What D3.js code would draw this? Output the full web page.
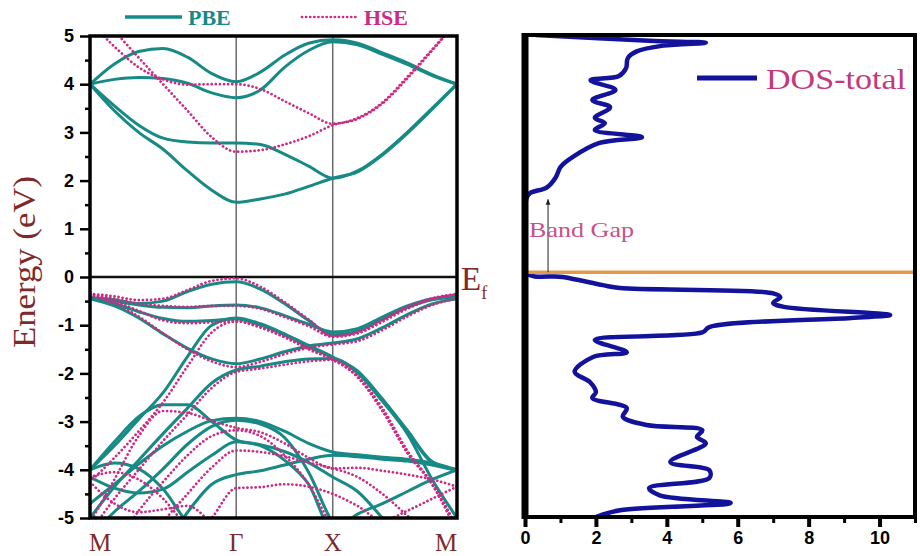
<!DOCTYPE html>
<html>
<head>
<meta charset="utf-8">
<script src="https://cdn.jsdelivr.net/npm/d3@7"></script>
<style>
  body { margin: 0; background: #fff; }
  svg { display: block; }
</style>
</head>
<body>
<svg id="chart" width="920" height="556"></svg>
<script>
// k-path (relative path length) and its high-symmetry points
const kNodes = [0, 1.0, 1.66, 2.51];
const kLabels = ["M", "Γ", "X", "M"];
const kGrid = [0, 0.167, 0.333, 0.5, 0.667, 0.833, 1.0, 1.165, 1.33, 1.495, 1.66, 1.83, 2.0, 2.17, 2.34, 2.51];
const energyTicks = [-5, -4, -3, -2, -1, 0, 1, 2, 3, 4, 5];
const energyMinor = [-4.5, -3.5, -2.5, -1.5, -0.5, 0.5, 1.5, 2.5, 3.5, 4.5];

// PBE bands, energy (eV) at each kGrid point
const pbeBands = [
  [4.0, 4.42, 4.68, 4.74, 4.56, 4.22, 4.05, 4.25, 4.6, 4.85, 4.92, 4.85, 4.65, 4.44, 4.2, 4.0],
  [4.0, 4.1, 4.14, 4.12, 4.02, 3.82, 3.72, 3.88, 4.35, 4.7, 4.88, 4.82, 4.62, 4.41, 4.18, 4.0],
  [4.0, 3.55, 3.15, 2.88, 2.8, 2.78, 2.78, 2.75, 2.55, 2.3, 2.05, 2.2, 2.55, 3.0, 3.5, 4.0],
  [4.0, 3.45, 3.0, 2.65, 2.2, 1.8, 1.55, 1.62, 1.72, 1.88, 2.05, 2.18, 2.53, 2.98, 3.48, 4.0],
  [-0.43, -0.47, -0.55, -0.5, -0.3, -0.15, -0.1, -0.25, -0.55, -0.9, -1.2, -1.12, -0.88, -0.63, -0.47, -0.42],
  [-0.43, -0.5, -0.58, -0.63, -0.64, -0.6, -0.58, -0.64, -0.8, -0.98, -1.14, -1.07, -0.83, -0.6, -0.45, -0.4],
  [-0.43, -0.55, -0.72, -0.86, -0.92, -0.9, -0.87, -1.0, -1.2, -1.45, -1.67, -1.97, -2.55, -3.2, -3.85, -4.0],
  [-0.45, -0.6, -0.85, -1.18, -1.48, -1.7, -1.8, -1.7, -1.55, -1.43, -1.37, -1.28, -1.05, -0.78, -0.56, -0.45],
  [-5.0, -4.35, -3.8, -3.25, -2.72, -2.2, -1.93, -1.85, -1.76, -1.7, -1.69, -1.99, -2.58, -3.25, -4.2, -5.0],
  [-4.0, -3.5, -2.95, -2.4, -1.65, -1.0, -0.85, -0.97, -1.18, -1.42, -1.66, -1.95, -2.53, -3.18, -3.83, -4.0],
  [-4.0, -3.42, -2.9, -2.65, -2.65, -3.0, -3.38, -3.5, -3.8, -4.3, -5.25, -4.92, -4.7, -4.45, -4.2, -4.0],
  [-4.7, -4.3, -3.88, -3.5, -3.2, -2.98, -2.93, -3.0, -3.2, -3.45, -3.63, -3.69, -3.74, -3.78, -3.86, -4.0],
  [-5.4, -4.87, -4.45, -3.98, -3.47, -3.1, -2.97, -3.05, -3.33, -4.05, -5.1, -5.6, -5.8, -5.7, -5.5, -5.3],
  [-4.0, -3.86, -3.98, -4.4, -5.1, -5.5, -5.7, -5.6, -5.5, -5.4, -5.3, -5.3, -5.4, -5.5, -5.6, -5.7],
  [-6.2, -6.0, -5.8, -5.6, -4.88, -4.3, -4.1, -4.02, -3.9, -3.78, -3.7, -3.73, -3.78, -3.82, -3.9, -4.02],
  [-4.15, -4.38, -4.48, -4.4, -4.05, -3.7, -3.42, -3.48, -3.62, -3.85, -4.15, -4.45, -5.0, -5.6, -6.0, -6.2]
];

// HSE bands
const hseBands = [
  [5.3, 4.78, 4.35, 4.1, 3.99, 4.0, 4.0, 3.9, 3.65, 3.4, 3.18, 3.3, 3.62, 4.15, 4.72, 5.3],
  [5.6, 5.1, 4.55, 4.0, 3.45, 2.9, 2.6, 2.63, 2.75, 2.92, 3.15, 3.28, 3.6, 4.12, 4.7, 5.3],
  [-0.35, -0.4, -0.48, -0.45, -0.27, -0.08, -0.03, -0.2, -0.52, -0.88, -1.22, -1.14, -0.88, -0.62, -0.44, -0.35],
  [-0.35, -0.45, -0.55, -0.6, -0.62, -0.6, -0.6, -0.66, -0.83, -1.02, -1.24, -1.17, -0.93, -0.66, -0.46, -0.36],
  [-0.36, -0.5, -0.7, -0.9, -0.96, -0.94, -0.92, -1.03, -1.23, -1.48, -1.7, -2.08, -2.78, -3.65, -4.3, -5.2],
  [-0.38, -0.55, -0.82, -1.17, -1.5, -1.75, -1.87, -1.76, -1.6, -1.47, -1.4, -1.33, -1.1, -0.82, -0.58, -0.45],
  [-5.3, -4.6, -4.0, -3.4, -2.85, -2.3, -1.97, -1.9, -1.82, -1.75, -1.72, -2.05, -2.72, -3.6, -4.3, -5.3],
  [-4.25, -3.75, -3.2, -2.6, -1.85, -1.15, -0.92, -1.05, -1.25, -1.5, -1.72, -2.06, -2.76, -3.63, -4.28, -5.2],
  [-5.1, -4.2, -3.3, -2.78, -2.82, -2.98, -3.13, -3.22, -3.45, -3.75, -3.97, -3.96, -4.02, -4.1, -4.2, -4.35],
  [-6.2, -5.6, -4.85, -4.25, -3.7, -3.3, -3.18, -3.3, -3.7, -4.3, -5.2, -5.8, -6.0, -6.0, -6.0, -6.0],
  [-6.5, -6.3, -6.0, -5.1, -4.5, -3.95, -3.6, -3.63, -3.72, -3.85, -3.97, -4.15, -4.5, -4.95, -5.4, -5.8],
  [-7.0, -6.8, -6.5, -6.2, -5.6, -5.0, -4.38, -4.36, -4.3, -4.35, -4.5, -4.75, -5.05, -4.85, -4.6, -4.35],
  [-4.25, -4.7, -4.88, -4.82, -4.75, -5.1, -5.5, -5.7, -5.8, -5.9, -6.0, -6.0, -6.0, -6.0, -6.0, -6.0],
  [-4.15, -4.05, -4.2, -4.6, -5.2, -5.7, -6.0, -6.0, -6.0, -6.0, -6.0, -6.0, -6.0, -6.0, -6.0, -6.0]
];

// total DOS, read top to bottom
const dosEnergy = [4.92, 4.8, 4.76, 4.7, 4.58, 4.44, 4.23, 4.07, 3.98, 3.78, 3.57, 3.42, 3.2, 3.09, 2.95,
  2.8, 2.68, 2.39, 2.18, 1.97, 1.76, 1.64, 1.55, 1.3, 0, -0.1, -0.27, -0.33, -0.44, -0.52, -0.64, -0.72,
  -0.89, -0.95, -1.14, -1.25, -1.41, -1.66, -1.76, -2.07, -2.28, -2.49, -2.61, -2.82, -3.0, -3.17, -3.28,
  -3.42, -3.55, -3.94, -4.11, -4.27, -4.48, -4.63, -4.79, -4.94, -5.08];
const dosTotal = [0.3, 3.5, 5.1, 3.9, 3.15, 2.9, 2.85, 2.65, 1.85, 2.55, 1.9, 2.4, 1.97, 2.25, 1.97,
  3.3, 2.1, 1.35, 1.0, 0.87, 0.62, 0.14, 0.05, 0, 0, 1.07, 2.2, 2.68, 7.0, 7.2, 7.0, 7.3,
  10.3, 9.2, 5.2, 5.0, 1.97, 2.87, 1.92, 1.4, 1.83, 2.0, 1.9, 2.87, 2.76, 3.43, 5.0,
  4.85, 5.1, 4.1, 5.2, 5.2, 3.5, 3.8, 5.8, 2.68, 2.0];
const dosTicks = [0, 2, 4, 6, 8, 10];
const dosMinor = [1, 3, 5, 7, 9, 11];
const bandGapTop = 1.55;

const teal = "#178a85", pink = "#cc2a84", brown = "#7e2a2a", navy = "#12129a";

const svg = d3.select("#chart");

// ---------- left panel : band structure ----------
const x = d3.scaleLinear().domain([0, 2.51]).range([90, 457]);
const y = d3.scaleLinear().domain([-5, 5]).range([518, 36]);

svg.append("clipPath").attr("id", "bandclip")
  .append("rect")
  .attr("x", x(0)).attr("y", y(5))
  .attr("width", x(2.51) - x(0)).attr("height", y(-5) - y(5));

// Γ and X guides
svg.selectAll(".kline")
  .data(kNodes.slice(1, 3))
  .join("line")
  .attr("x1", d => x(d)).attr("x2", d => x(d))
  .attr("y1", y(5)).attr("y2", y(-5))
  .attr("stroke", "#6a6a6a").attr("stroke-width", 1.5);

// Fermi level
svg.append("line")
  .attr("x1", x(0)).attr("x2", x(2.51))
  .attr("y1", y(0)).attr("y2", y(0))
  .attr("stroke", "#111").attr("stroke-width", 2.5);

const bandLine = d3.line()
  .x((d, i) => x(kGrid[i]))
  .y(d => y(d))
  .curve(d3.curveMonotoneX);

const bands = svg.append("g").attr("clip-path", "url(#bandclip)");

bands.selectAll(".pbe")
  .data(pbeBands)
  .join("path")
  .attr("class", "pbe")
  .attr("d", bandLine)
  .attr("fill", "none")
  .attr("stroke", teal)
  .attr("stroke-width", 3);

bands.selectAll(".hse")
  .data(hseBands)
  .join("path")
  .attr("class", "hse")
  .attr("d", bandLine)
  .attr("fill", "none")
  .attr("stroke", pink)
  .attr("stroke-width", 2.7)
  .attr("stroke-linecap", "round")
  .attr("stroke-dasharray", "0.1 4");

// frame
svg.append("rect")
  .attr("x", x(0)).attr("y", y(5))
  .attr("width", x(2.51) - x(0)).attr("height", y(-5) - y(5))
  .attr("fill", "none").attr("stroke", "#000").attr("stroke-width", 3.5);

const yAxis = svg.append("g")
  .attr("transform", `translate(${x(0)},0)`)
  .call(d3.axisLeft(y).tickValues(energyTicks).tickSize(10).tickPadding(6)
    .tickFormat(d => String(d)));
svg.append("g")
  .attr("transform", `translate(${x(0)},0)`)
  .call(d3.axisLeft(y).tickValues(energyMinor).tickSize(5).tickFormat(""));
svg.selectAll(".domain").remove();
svg.selectAll(".tick line").attr("stroke", "#000").attr("stroke-width", 2.5);
yAxis.selectAll("text")
  .attr("font-family", "Liberation Sans, Arial, sans-serif")
  .attr("font-weight", "bold").attr("font-size", 18).attr("fill", "#000");

// k labels
svg.selectAll(".klabel")
  .data(kNodes)
  .join("text")
  .attr("x", (d, i) => x(d) + (i === 0 ? 10 : i === 3 ? -11 : 0))
  .attr("y", 551)
  .attr("text-anchor", "middle")
  .attr("font-family", "Liberation Serif, Times New Roman, serif")
  .attr("font-size", 25)
  .attr("fill", brown)
  .text((d, i) => kLabels[i]);

svg.append("text")
  .attr("transform", `translate(35,262) rotate(-90)`)
  .attr("text-anchor", "middle")
  .attr("font-family", "Liberation Serif, Times New Roman, serif")
  .attr("font-size", 31)
  .attr("fill", brown)
  .attr("textLength", 172).attr("lengthAdjust", "spacingAndGlyphs")
  .text("Energy (eV)");

const ef = svg.append("text")
  .attr("x", 461).attr("y", 290)
  .attr("font-family", "Liberation Serif, Times New Roman, serif")
  .attr("font-size", 33).attr("fill", brown);
ef.append("tspan").text("E");
ef.append("tspan").attr("font-size", 18).attr("dy", 9).text("f");

// legend
svg.append("line").attr("x1", 125).attr("x2", 182).attr("y1", 17).attr("y2", 17)
  .attr("stroke", teal).attr("stroke-width", 3.5);
svg.append("text").attr("x", 188).attr("y", 25)
  .attr("font-family", "Liberation Serif, Times New Roman, serif")
  .attr("font-weight", "bold").attr("font-size", 22).attr("fill", teal).text("PBE");
svg.append("line").attr("x1", 302).attr("x2", 357).attr("y1", 17).attr("y2", 17)
  .attr("stroke", pink).attr("stroke-width", 2.7)
  .attr("stroke-linecap", "round").attr("stroke-dasharray", "0.1 4");
svg.append("text").attr("x", 364).attr("y", 25)
  .attr("font-family", "Liberation Serif, Times New Roman, serif")
  .attr("font-weight", "bold").attr("font-size", 22).attr("fill", pink).text("HSE");

// ---------- right panel : DOS ----------
const dx = d3.scaleLinear().domain([0, 11]).range([525, 915]);
const dy = d3.scaleLinear().domain([-5.08, 4.92]).range([517, 35]);

svg.append("clipPath").attr("id", "dosclip")
  .append("rect")
  .attr("x", dx(0)).attr("y", dy(4.92))
  .attr("width", dx(11) - dx(0)).attr("height", dy(-5.08) - dy(4.92));

const dosLine = d3.line()
  .x((d, i) => dx(dosTotal[i]))
  .y(d => dy(d))
  .curve(d3.curveCatmullRom.alpha(0.5));

svg.append("path")
  .datum(dosEnergy)
  .attr("clip-path", "url(#dosclip)")
  .attr("d", dosLine)
  .attr("fill", "none")
  .attr("stroke", navy)
  .attr("stroke-width", 4.5)
  .attr("stroke-linejoin", "round");

svg.append("line")
  .attr("x1", dx(0)).attr("x2", dx(11))
  .attr("y1", dy(0)).attr("y2", dy(0))
  .attr("stroke", "#e59a4a").attr("stroke-width", 3.5);

// band gap arrow
svg.append("defs").append("marker")
  .attr("id", "arrow").attr("viewBox", "0 0 10 10")
  .attr("refX", 9).attr("refY", 5)
  .attr("markerWidth", 6).attr("markerHeight", 6)
  .attr("orient", "auto")
  .append("path").attr("d", "M0,1 L10,5 L0,9 Z").attr("fill", "#222");
svg.append("line")
  .attr("x1", dx(0.65)).attr("x2", dx(0.65))
  .attr("y1", dy(0)).attr("y2", dy(bandGapTop) + 2)
  .attr("stroke", "#222").attr("stroke-width", 1)
  .attr("marker-end", "url(#arrow)");
svg.append("text")
  .attr("x", 529).attr("y", 237)
  .attr("font-family", "Liberation Serif, Times New Roman, serif")
  .attr("font-size", 22).attr("fill", "#c8508a")
  .attr("textLength", 105).attr("lengthAdjust", "spacingAndGlyphs")
  .text("Band Gap");

// frame
svg.append("rect")
  .attr("x", dx(0)).attr("y", dy(4.92))
  .attr("width", dx(11) - dx(0)).attr("height", dy(-5.08) - dy(4.92))
  .attr("fill", "none").attr("stroke", "#000").attr("stroke-width", 4);
svg.append("line")
  .attr("x1", dx(0)).attr("x2", dx(0))
  .attr("y1", dy(4.92) - 2).attr("y2", dy(-5.08) + 2)
  .attr("stroke", "#000").attr("stroke-width", 7);

const xAxis = svg.append("g")
  .attr("transform", `translate(0,${dy(-5.08)})`)
  .call(d3.axisBottom(dx).tickValues(dosTicks).tickSize(10).tickPadding(4));
const xMinor = svg.append("g")
  .attr("transform", `translate(0,${dy(-5.08)})`)
  .call(d3.axisBottom(dx).tickValues(dosMinor).tickSize(6).tickFormat(""));
xAxis.select(".domain").remove();
xMinor.select(".domain").remove();
xAxis.selectAll(".tick line").attr("stroke", "#000").attr("stroke-width", 4);
xMinor.selectAll(".tick line").attr("stroke", "#000").attr("stroke-width", 3);
xAxis.selectAll("text")
  .attr("font-family", "Liberation Sans, Arial, sans-serif")
  .attr("font-weight", "bold").attr("font-size", 18).attr("fill", "#000");

// legend
svg.append("line").attr("x1", 697).attr("x2", 757).attr("y1", 78).attr("y2", 78)
  .attr("stroke", navy).attr("stroke-width", 5);
svg.append("text").attr("x", 766).attr("y", 89)
  .attr("font-family", "Liberation Serif, Times New Roman, serif")
  .attr("font-size", 30).attr("fill", "#c2397c")
  .attr("textLength", 140).attr("lengthAdjust", "spacingAndGlyphs")
  .text("DOS-total");
</script>
</body>
</html>
